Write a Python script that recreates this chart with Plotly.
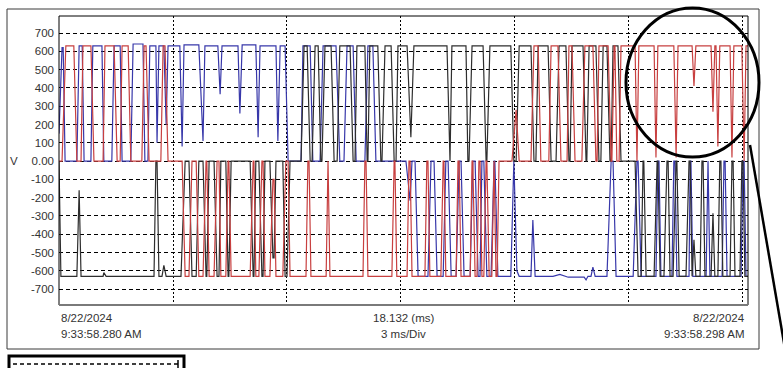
import plotly.graph_objects as go

# ---------------- data (time in ms, voltage in V) ----------------
# each entry: (start_ms, end_ms, level_V) of a plateau
red_plateaus = [
    (0.00, 0.08, 0), (0.18, 0.39, 630), (0.47, 0.58, 0), (0.63, 0.84, 630),
    (0.92, 1.16, 0), (1.21, 1.45, 630), (1.53, 1.61, 0), (1.66, 1.82, 630),
    (1.89, 2.18, 0), (2.24, 2.29, 630), (2.37, 2.68, 0), (2.74, 2.79, 630),
    (2.87, 3.24, 0), (3.32, 3.42, -630), (3.50, 3.61, 0), (3.68, 3.79, -630),
    (3.87, 3.89, 0), (3.95, 4.08, -630), (4.16, 4.21, 0), (4.26, 4.39, -630),
    (4.45, 4.47, 0), (4.53, 5.03, -630), (5.11, 5.13, 0), (5.18, 5.26, -630),
    (5.34, 5.37, 0), (5.42, 5.55, -630), (5.63, 5.66, -100), (5.71, 5.89, -630),
    (5.97, 6.03, 0), (6.08, 6.50, -630), (6.55, 6.58, 0), (6.63, 7.03, -630),
    (7.08, 7.08, 0), (7.13, 8.00, -630), (8.05, 8.08, 0), (8.13, 8.76, -630),
    (8.82, 8.84, 0), (8.89, 9.16, -630), (9.21, 9.24, 0), (9.29, 9.63, -630),
    (9.68, 9.71, 0), (9.76, 10.05, -630), (10.11, 10.13, 0), (10.18, 10.45, -630),
    (10.50, 10.53, 0), (10.58, 10.82, -630), (10.87, 10.89, 0), (10.95, 11.00, -630),
    (11.05, 11.08, 0), (11.13, 11.18, -630), (11.24, 11.26, 0), (11.32, 11.39, -630),
    (11.45, 11.45, 0), (11.50, 11.53, -630), (11.58, 11.92, 0), (12.03, 12.03, 280),
    (12.11, 12.42, 0), (12.50, 12.61, 630), (12.68, 12.89, 0), (12.95, 13.13, 630),
    (13.21, 13.37, 0), (13.42, 13.50, 630), (13.58, 13.76, 0), (13.84, 14.05, 630),
    (14.13, 14.16, 0), (14.21, 14.45, 630), (14.53, 14.55, 0), (14.61, 14.63, 630),
    (14.68, 14.74, 0), (14.79, 15.16, 630), (15.21, 15.21, 0), (15.26, 15.66, 630),
    (15.71, 15.71, 20), (15.76, 16.18, 630), (16.24, 16.24, 20), (16.29, 16.66, 630),
    (16.71, 16.71, 410), (16.76, 17.16, 630), (17.21, 17.21, 270), (17.26, 17.29, 630),
    (17.34, 17.34, 80), (17.39, 17.66, 630), (17.71, 17.71, 20), (17.76, 17.97, 630),
    (18.03, 18.03, 0), (18.08, 18.132, 630),
]

blue_plateaus = [
    (0.00, 0.00, 150), (0.08, 0.11, 620), (0.16, 0.47, 0), (0.53, 0.61, 630),
    (0.66, 0.84, 0), (0.89, 1.13, 630), (1.18, 1.39, 0), (1.45, 1.61, 630),
    (1.66, 1.89, 0), (1.95, 2.21, 640), (2.26, 2.34, 0), (2.39, 2.55, 630),
    (2.58, 2.58, 100), (2.63, 2.76, 630), (2.82, 2.82, 200), (2.87, 3.18, 630),
    (3.24, 3.24, 80), (3.29, 3.68, 635), (3.79, 3.79, 110), (3.84, 4.18, 630),
    (4.24, 4.24, 365), (4.29, 4.71, 630), (4.76, 4.76, 260), (4.82, 5.18, 635),
    (5.24, 5.24, 130), (5.29, 5.71, 630), (5.76, 5.76, 110), (5.82, 5.95, 630),
    (6.03, 6.37, 0), (6.42, 6.61, 630), (6.68, 6.87, 0), (6.95, 7.29, 630),
    (7.39, 7.50, 0), (7.58, 7.74, 630), (7.82, 8.05, 0), (8.13, 8.26, 630),
    (8.34, 9.13, 0), (9.24, 9.24, -217), (9.29, 9.37, 0), (9.45, 9.71, -630),
    (9.79, 9.87, 0), (9.95, 10.11, -630), (10.18, 10.24, 0), (10.32, 10.45, -630),
    (10.53, 10.58, 0), (10.66, 10.82, -630), (10.89, 10.95, 0), (11.03, 11.08, -630),
    (11.13, 11.18, 0), (11.26, 11.37, -630), (11.45, 11.47, 0), (11.55, 11.89, -630),
    (11.97, 11.97, 0), (12.05, 12.05, -600), (12.11, 12.42, -630), (12.47, 12.47, -323),
    (12.53, 13.00, -630), (13.18, 13.18, -620), (13.40, 13.82, -635), (13.87, 13.87, -650),
    (13.92, 14.00, -630), (14.05, 14.05, -580), (14.11, 14.42, -630), (14.53, 14.58, 0),
    (14.66, 15.11, -630), (15.21, 15.24, 0), (15.32, 15.71, -630), (15.76, 15.79, 0),
    (15.84, 16.13, -630), (16.18, 16.21, 0), (16.26, 16.58, -630), (16.61, 16.63, 0),
    (16.68, 17.03, -630), (17.08, 17.08, 0), (17.13, 17.45, -630), (17.50, 17.53, 0),
    (17.58, 17.95, -630), (18.00, 18.03, 0), (18.08, 18.132, -630),
]

black_plateaus = [
    (0.00, 0.00, 0), (0.05, 0.47, -630), (0.53, 0.53, -160), (0.58, 1.16, -630),
    (1.18, 1.18, -610), (1.24, 2.50, -630), (2.55, 2.58, 0), (2.63, 2.71, -630),
    (2.76, 2.76, -570), (2.82, 3.21, -630), (3.32, 3.42, 0), (3.50, 3.61, -630),
    (3.68, 3.79, 0), (3.87, 3.89, -630), (3.95, 4.08, 0), (4.16, 4.21, -630),
    (4.26, 4.39, 0), (4.45, 4.47, -630), (4.53, 5.03, 0), (5.11, 5.13, -630),
    (5.18, 5.26, 0), (5.34, 5.37, -630), (5.42, 5.55, 0), (5.63, 5.66, -530),
    (5.71, 5.89, 0), (5.95, 6.00, -630), (6.08, 6.37, 0), (6.45, 6.53, 630),
    (6.61, 6.66, 0), (6.74, 6.82, 630), (6.89, 6.92, 0), (7.00, 7.16, 630),
    (7.24, 7.32, 0), (7.39, 7.66, 630), (7.74, 7.79, 0), (7.84, 8.05, 630),
    (8.11, 8.13, 0), (8.18, 8.39, 630), (8.47, 8.50, 0), (8.58, 8.74, 630),
    (8.82, 8.87, 0), (8.92, 9.16, 630), (9.26, 9.26, 130), (9.34, 10.21, 630),
    (10.29, 10.29, 0), (10.34, 10.71, 630), (10.76, 10.79, 0), (10.87, 11.16, 630),
    (11.24, 11.26, 0), (11.34, 11.89, 630), (11.97, 12.03, 0), (12.11, 12.42, 630),
    (12.50, 12.55, 0), (12.61, 12.87, 630), (12.95, 13.08, 0), (13.16, 13.34, 630),
    (13.42, 13.45, 0), (13.50, 13.79, 630), (13.87, 13.89, 0), (13.95, 14.13, 630),
    (14.21, 14.26, 0), (14.32, 14.42, 630), (14.50, 14.53, 0), (14.58, 14.71, 630),
    (14.79, 15.16, 0), (15.24, 15.32, -630), (15.37, 15.39, 0), (15.45, 15.66, -630),
    (15.74, 15.76, 0), (15.82, 15.92, -630), (16.00, 16.03, 0), (16.08, 16.16, -630),
    (16.24, 16.26, 0), (16.32, 16.50, -630), (16.58, 16.61, 0), (16.66, 16.66, -630),
    (16.71, 16.71, -430), (16.76, 16.87, -630), (16.92, 16.95, 0), (17.00, 17.16, -630),
    (17.21, 17.21, -285), (17.26, 17.34, -630), (17.39, 17.42, 0), (17.47, 17.66, -630),
    (17.71, 17.74, 0), (17.79, 17.92, -630), (17.97, 18.00, 0), (18.05, 18.132, -630),
]

y_tick_values = [700, 600, 500, 400, 300, 200, 100, 0, -100, -200, -300, -400, -500, -600, -700]
y_tick_labels = ["700", "600", "500", "400", "300", "200", "100", "0.00",
                 "-100", "-200", "-300", "-400", "-500", "-600", "-700"]
x_grid_values = [3, 6, 9, 12, 15, 18]
total_ms = 18.132
start_label = ["8/22/2024", "9:33:58.280 AM"]
center_label = ["18.132 (ms)", "3 ms/Div"]
end_label = ["8/22/2024", "9:33:58.298 AM"]
y_unit = "V"


def to_xy(plateaus):
    xs, ys = [], []
    for t0, t1, v in plateaus:
        xs.append(t0)
        ys.append(v)
        if t1 > t0:
            xs.append(t1)
            ys.append(v)
    return xs, ys


fig = go.Figure()
for plateaus, color in [(blue_plateaus, "#3838aa"),
                        (black_plateaus, "#2e2e2e"),
                        (red_plateaus, "#c84040")]:
    xs, ys = to_xy(plateaus)
    fig.add_trace(go.Scatter(x=xs, y=ys, mode="lines",
                             line=dict(color=color, width=1.2),
                             hoverinfo="skip"))

W, H = 783, 368
L, R, T, B = 59, 35, 16, 63
pw, ph = W - L - R, H - T - B


def px(x):
    return (x - L) / pw


def py(y):
    return (H - B - y) / ph


fig.update_layout(
    width=W, height=H,
    margin=dict(l=L, r=R, t=T, b=B),
    paper_bgcolor="white", plot_bgcolor="white",
    showlegend=False,
    font=dict(family="Liberation Sans, Arial, sans-serif", size=11.5, color="#333333"),
)
fig.update_xaxes(range=[0, total_ms], tickvals=x_grid_values, showticklabels=False,
                 showgrid=True, gridcolor="black", gridwidth=1, griddash="2px,2px",
                 zeroline=False, showline=False, ticks="")
fig.update_yaxes(range=[-787, 793], tickvals=y_tick_values, ticktext=y_tick_labels,
                 showgrid=True, gridcolor="black", gridwidth=1, griddash="4px,3px",
                 zeroline=False, showline=False, ticks="", ticklabelstandoff=4)

shapes = [
    # outer frame
    dict(type="rect", xref="paper", yref="paper", x0=px(7), x1=px(759), y0=py(349), y1=py(9),
         line=dict(color="#3a3a3a", width=1)),
    # plot frame
    dict(type="rect", xref="paper", yref="paper", x0=0, x1=1, y0=0, y1=1,
         line=dict(color="black", width=1)),
    dict(type="line", xref="paper", yref="paper", x0=0, x1=1, y0=0, y1=0,
         line=dict(color="#7a7a7a", width=2)),
    # highlight circle
    dict(type="circle", xref="paper", yref="paper", x0=px(626), x1=px(759), y0=py(157), y1=py(8),
         line=dict(color="black", width=3)),
    # pointer line
    dict(type="line", xref="paper", yref="paper", x0=px(750), y0=py(145), x1=px(789), y1=py(372),
         line=dict(color="black", width=2.5)),
    # clipped legend box at bottom-left
    dict(type="rect", xref="paper", yref="paper", x0=px(9), x1=px(184), y0=py(375), y1=py(356),
         line=dict(color="black", width=3)),
    dict(type="line", xref="paper", yref="paper", x0=px(13), x1=px(178), y0=py(364), y1=py(364),
         line=dict(color="black", width=1.5, dash="4px,3px")),
    dict(type="line", xref="paper", yref="paper", x0=px(178), x1=px(178), y0=py(360), y1=py(370),
         line=dict(color="black", width=1.5)),
]
fig.update_layout(shapes=shapes)

ann = [dict(text=y_unit, x=px(13.5), y=py(161), xanchor="center", yanchor="middle")]
for lines, x, anchor in [(start_label, 0, "left"), (center_label, 0.5, "center"),
                         (end_label, px(747), "right")]:
    for i, txt in enumerate(lines):
        ann.append(dict(text=txt, x=x, y=py(318 + 15.5 * i), xanchor=anchor, yanchor="middle"))
for a in ann:
    a.update(xref="paper", yref="paper", showarrow=False, font=dict(size=11.5, color="#333333"))
fig.update_layout(annotations=ann)

fig.write_html("out.html", config={"displayModeBar": False},
               post_script="document.body.style.margin='0px';")
